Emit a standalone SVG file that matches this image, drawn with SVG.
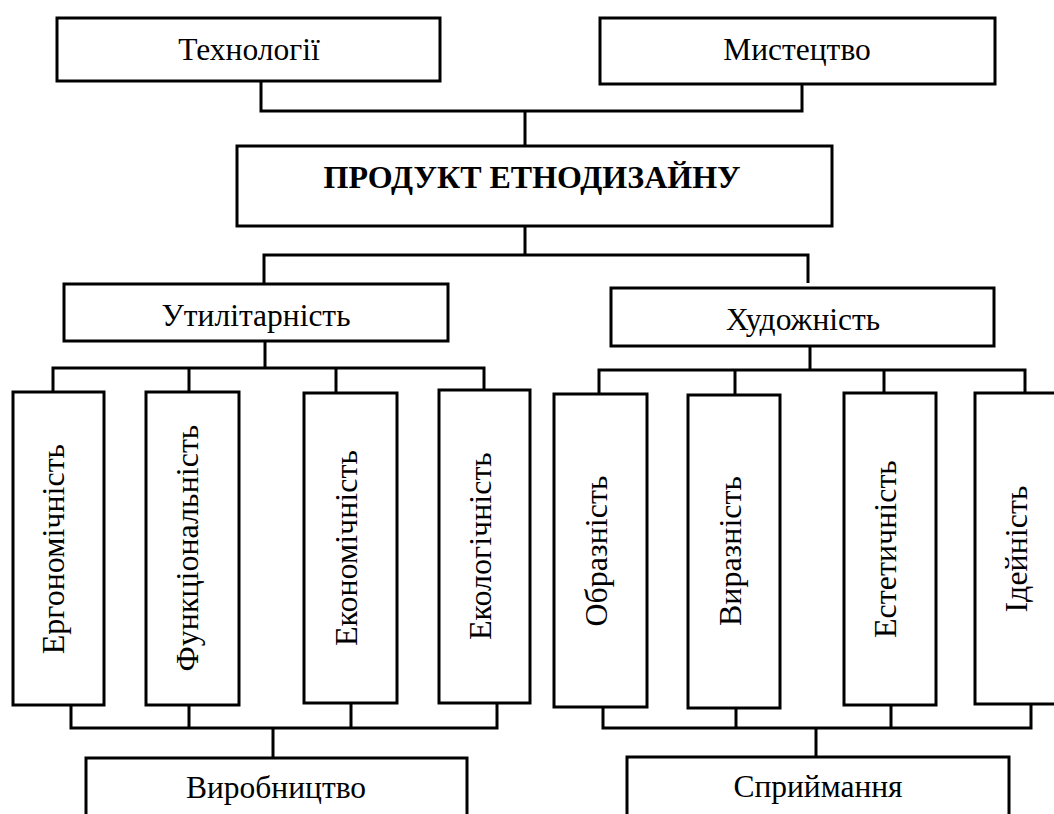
<svg xmlns="http://www.w3.org/2000/svg" width="1054" height="814" viewBox="0 0 1054 814">
<style>
.box{fill:#fff;stroke:#000;stroke-width:3}
.ln{fill:none;stroke:#000;stroke-width:3}
text{font-family:"Liberation Serif","Times New Roman",serif;font-size:31.5px;fill:#000;text-anchor:middle}
.b{font-weight:bold;font-size:32px}
.v{font-size:32px}
</style>
<rect width="1054" height="814" fill="#fff"/>
<g id="connectors">
<path class="ln" d="M261 81V111H802V84M525 111V146"/>
<path class="ln" d="M525 226V255M264 283V255H808V283"/>
<path class="ln" d="M265 341V368M53 392V368H484V390M189 368V392M336 368V393"/>
<path class="ln" d="M810 346V370M599 394V370H1025V393M735 370V395M884 370V393"/>
<path class="ln" d="M71 705V728H497V703M189 705V728M351 703V728M273 728V758"/>
<path class="ln" d="M603 707V728H1031V704M736 708V728M891 705V728M816 728V757"/>
</g>
<g id="tech"><rect class="box" x="57" y="18" width="383" height="63"/><text x="249" y="60">Технології</text></g>
<g id="art"><rect class="box" x="600" y="18" width="395" height="66"/><text x="797" y="60">Мистецтво</text></g>
<g id="product"><rect class="box" x="237" y="146" width="595" height="80"/><text class="b" x="532" y="188">ПРОДУКТ ЕТНОДИЗАЙНУ</text></g>
<g id="utility"><rect class="box" x="64" y="284" width="384" height="57"/><text x="256" y="326">Утилітарність</text></g>
<g id="artistry"><rect class="box" x="611" y="288" width="383" height="58"/><text x="803" y="330">Художність</text></g>
<g id="ergo"><rect class="box" x="13" y="392" width="91" height="313"/><text class="v" transform="translate(64 549) rotate(-90)">Ергономічність</text></g>
<g id="func"><rect class="box" x="146" y="392" width="93" height="313"/><text class="v" transform="translate(198 548) rotate(-90)">Функціональність</text></g>
<g id="econ"><rect class="box" x="304" y="393" width="93" height="310"/><text class="v" transform="translate(357 548) rotate(-90)">Економічність</text></g>
<g id="eco"><rect class="box" x="439" y="390" width="91" height="313"/><text class="v" transform="translate(491 546) rotate(-90)">Екологічність</text></g>
<g id="image"><rect class="box" x="554" y="394" width="93" height="313"/><text class="v" transform="translate(607 551) rotate(-90)">Образність</text></g>
<g id="expr"><rect class="box" x="688" y="395" width="92" height="313"/><text class="v" transform="translate(741 551) rotate(-90)">Виразність</text></g>
<g id="aesth"><rect class="box" x="844" y="393" width="92" height="312"/><text class="v" transform="translate(896 549) rotate(-90)">Естетичність</text></g>
<g id="idea"><rect class="box" x="975" y="393" width="95" height="311"/><text class="v" transform="translate(1027 549) rotate(-90)">Ідейність</text></g>
<g id="prod"><rect class="box" x="86" y="758" width="381" height="80"/><text x="276" y="798">Виробництво</text></g>
<g id="percep"><rect class="box" x="627" y="757" width="382" height="80"/><text x="818" y="797">Сприймання</text></g>
</svg>
